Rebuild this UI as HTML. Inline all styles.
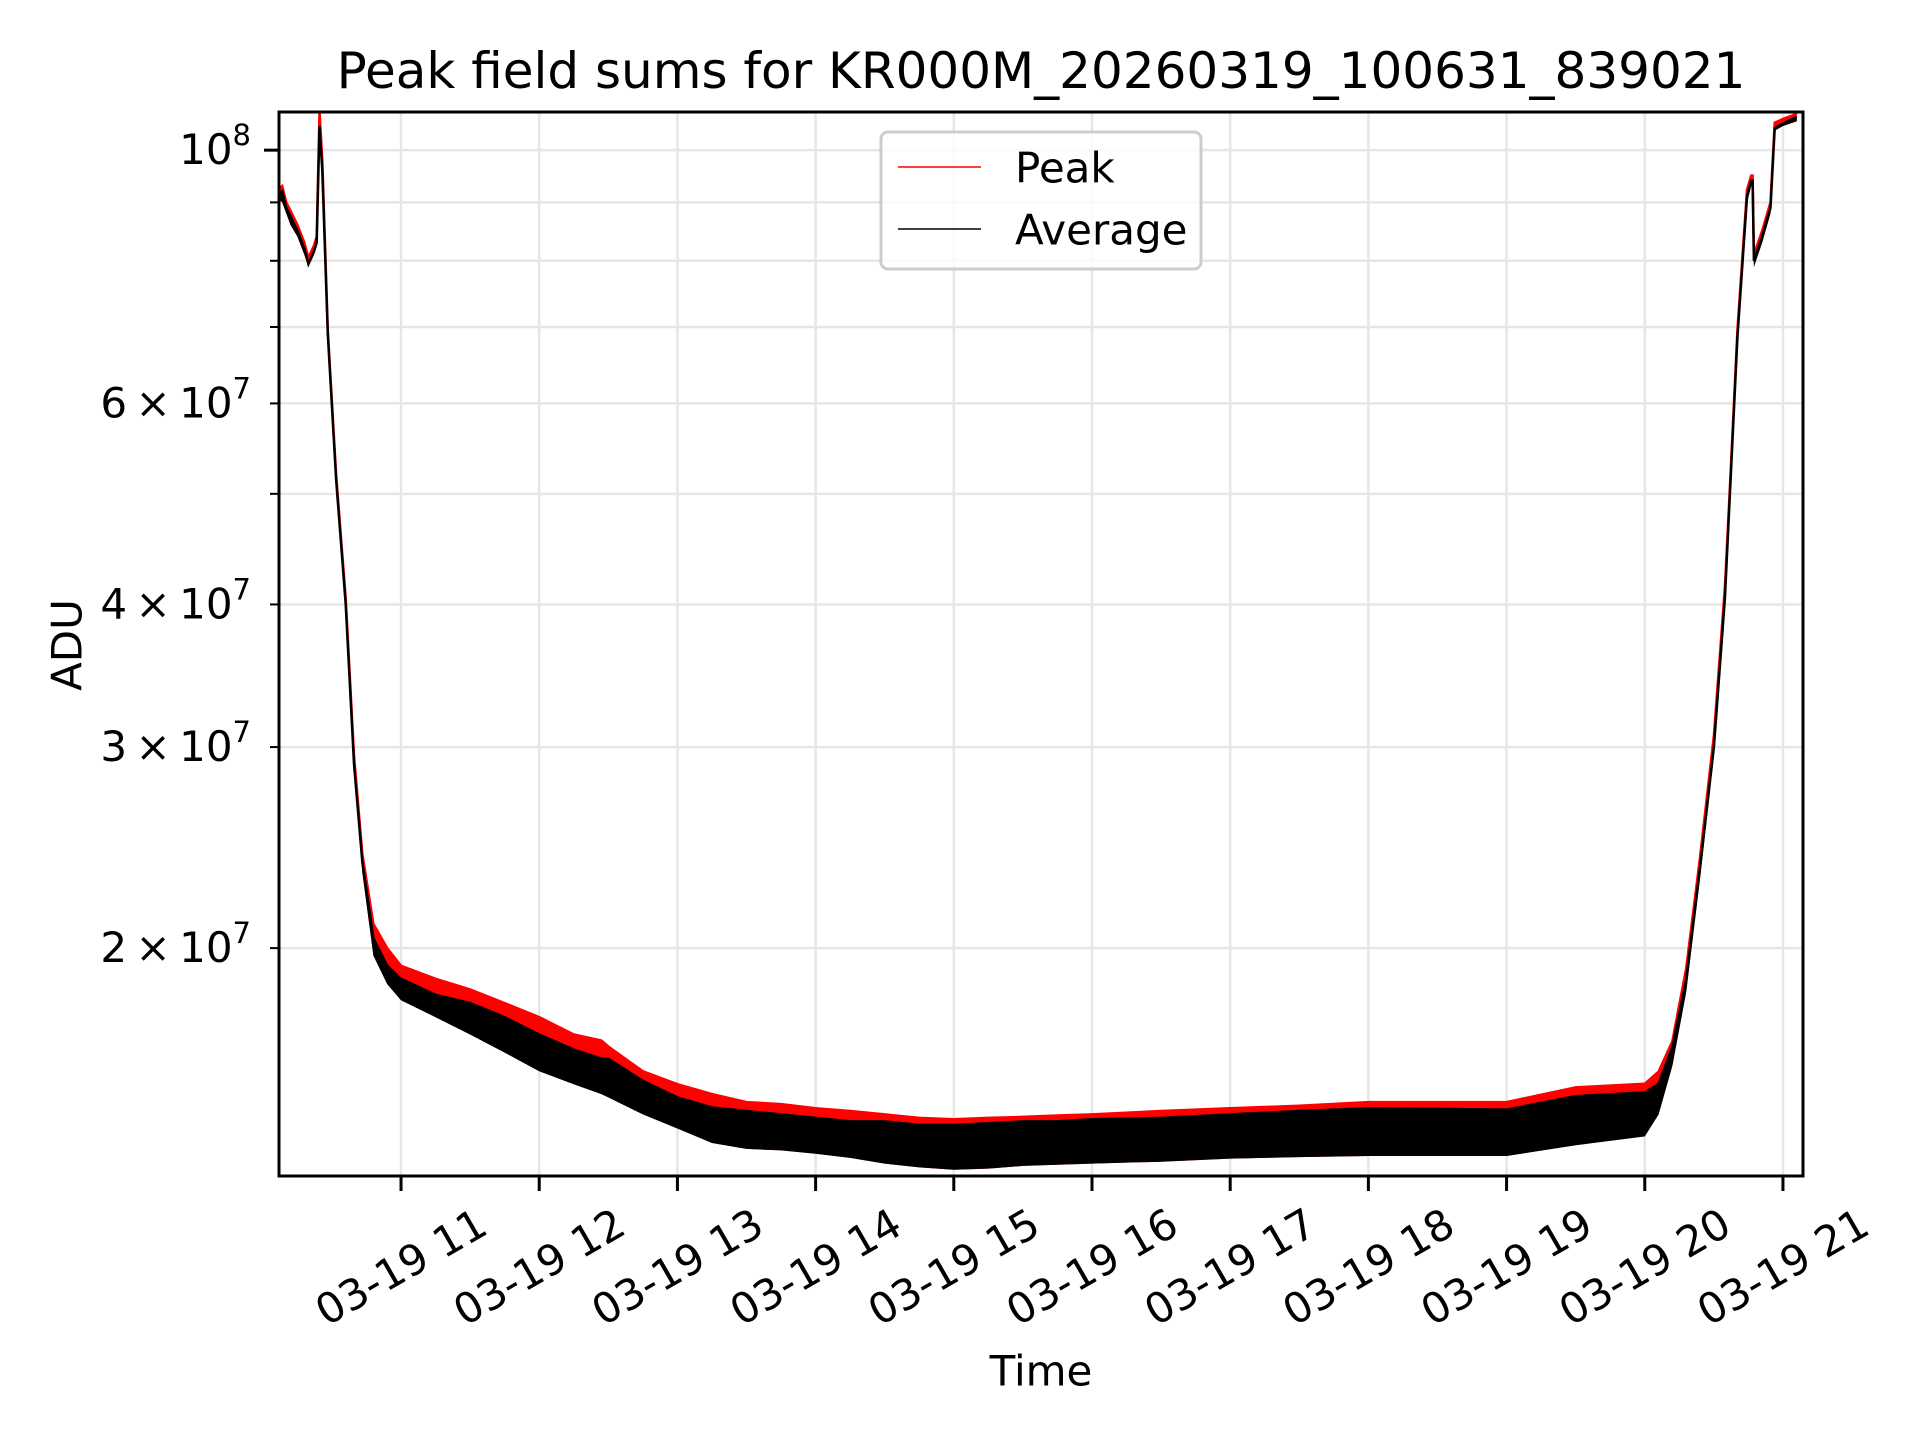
<!DOCTYPE html>
<html><head><meta charset="utf-8"><style>
html,body{margin:0;padding:0;background:#fff;}
svg{display:block;font-family:"DejaVu Sans","Liberation Sans",sans-serif;}
</style></head><body>
<svg id="chart" width="1920" height="1440" viewBox="0 0 1920 1440" xmlns="http://www.w3.org/2000/svg">
<rect width="1920" height="1440" fill="#fff"/>
<text x="1041" y="71" font-size="50" text-anchor="middle" dominant-baseline="central">Peak field sums for KR000M_20260319_100631_839021</text>
<g id="grid"></g>
<g id="series"></g>
<rect x="279" y="112" width="1524" height="1064" fill="none" stroke="#000" stroke-width="3"/>
<g id="axes"></g>
<text x="67" y="645" font-size="42" text-anchor="middle" dominant-baseline="central" transform="rotate(-90 67 645)">ADU</text>
<text x="1041" y="1371" font-size="42" text-anchor="middle" dominant-baseline="central">Time</text>
<g>
<rect x="881" y="132" width="320" height="137" rx="7" fill="#fff" fill-opacity="0.8" stroke="#ccc" stroke-width="3"/>
<line x1="898" y1="167" x2="981" y2="167" stroke="#f00" stroke-width="1.5"/>
<text x="1015" y="168" font-size="42" dominant-baseline="central">Peak</text>
<line x1="898" y1="229" x2="981" y2="229" stroke="#000" stroke-width="1.5"/>
<text x="1015" y="230" font-size="42" dominant-baseline="central">Average</text>
</g>
</svg>
<script>
const tHours=[10.117,10.14,10.17,10.2,10.25,10.3,10.33,10.37,10.39,10.41,10.43,10.47,10.53,10.6,10.66,10.72,10.8,10.9,11.0,11.25,11.5,11.75,12.0,12.25,12.45,12.5,12.75,13.0,13.25,13.5,13.75,14.0,14.25,14.5,14.75,15.0,15.25,15.5,15.75,16.0,16.5,17.0,17.5,18.0,18.5,19.0,19.5,20.0,20.1,20.2,20.3,20.4,20.5,20.58,20.62,20.67,20.74,20.77,20.78,20.79,20.85,20.91,20.94,21.0,21.1];
const peakE7=[9.25,9.3,9.0,8.85,8.6,8.3,8.05,8.25,8.4,10.8,9.8,6.95,5.2,4.05,2.95,2.42,2.1,2.0,1.93,1.88,1.84,1.79,1.74,1.68,1.66,1.64,1.56,1.52,1.49,1.466,1.46,1.448,1.44,1.43,1.42,1.416,1.42,1.423,1.427,1.43,1.44,1.448,1.455,1.466,1.466,1.466,1.51,1.521,1.559,1.658,1.92,2.4,3.07,4.14,5.17,6.95,9.23,9.5,9.5,8.1,8.5,9.0,10.57,10.65,10.76];
const avgTopE7=[9.15,9.2,8.9,8.75,8.5,8.2,7.95,8.15,8.3,10.5,9.6,6.9,5.15,4.0,2.9,2.38,2.04,1.93,1.88,1.82,1.79,1.74,1.68,1.63,1.6,1.6,1.53,1.48,1.45,1.44,1.43,1.42,1.41,1.41,1.4,1.4,1.405,1.41,1.41,1.416,1.42,1.43,1.44,1.448,1.446,1.444,1.484,1.495,1.521,1.638,1.876,2.35,3.0,4.05,5.1,6.85,9.1,9.4,9.4,8.0,8.4,8.9,10.45,10.55,10.7];
const avgLowE7=[9.05,9.0,8.8,8.6,8.4,8.1,7.9,8.1,8.25,10.4,9.5,6.85,5.1,3.95,2.85,2.33,1.97,1.86,1.8,1.74,1.68,1.62,1.56,1.52,1.49,1.48,1.43,1.39,1.35,1.334,1.33,1.321,1.31,1.295,1.285,1.279,1.282,1.289,1.292,1.295,1.3,1.308,1.312,1.315,1.315,1.315,1.344,1.368,1.43,1.578,1.83,2.3,2.95,4.0,5.0,6.8,9.0,9.3,9.3,7.9,8.3,8.8,10.4,10.5,10.6];
const xTickHours=[11,12,13,14,15,16,17,18,19,20,21];
const xTickLabels=["03-19 11","03-19 12","03-19 13","03-19 14","03-19 15","03-19 16","03-19 17","03-19 18","03-19 19","03-19 20","03-19 21"];
const yMinorTicks=[2e7,3e7,4e7,5e7,6e7,7e7,8e7,9e7];
const yLabelTicks=[2e7,3e7,4e7,6e7];
const yLabelMant=["2","3","4","6"];

const NS="http://www.w3.org/2000/svg";
const L=279,R=1803,T=112,B=1176;
const x0=10.117,x1=21.145;
function xs(t){return L+(t-x0)/(x1-x0)*(R-L);}
const ly0=Math.log10(1.263e7),ly1=Math.log10(1.08e8);
function ys(v){return B-(Math.log10(v)-ly0)/(ly1-ly0)*(B-T);}
function mk(tag,attrs,parent){const e=document.createElementNS(NS,tag);for(const k in attrs)e.setAttribute(k,attrs[k]);parent.appendChild(e);return e;}
const grid=document.getElementById('grid'),axes=document.getElementById('axes'),series=document.getElementById('series');

xTickHours.forEach((h,i)=>{
  const x=xs(h);
  const g=mk('line',{x1:x,y1:T,x2:x,y2:B,stroke:'#e6e6e6','stroke-width':2.5},grid);
  
  
  const tk=mk('line',{x1:x,y1:B,x2:x,y2:B+15,stroke:'#000','stroke-width':3},axes);
  
  
  const tx=mk('text',{x:x,y:1267,'font-size':42,'text-anchor':'middle','dominant-baseline':'central',transform:`rotate(-30 ${x} 1267)`},axes);
  tx.textContent=xTickLabels[i];
  
  
});
const allY=[1e8].concat(yMinorTicks);
allY.forEach(v=>{
  const y=ys(v);
  const g=mk('line',{x1:L,y1:y,x2:R,y2:y,stroke:'#e6e6e6','stroke-width':2.5},grid);
  
  
  const major=v===1e8;
  const tk=mk('line',{x1:L-(major?15:9),y1:y,x2:L,y2:y,stroke:'#000','stroke-width':major?3:2},axes);
  
  
});
{
  const y=ys(1e8);
  const t=mk('text',{x:251,y:y+14,'font-size':42,'text-anchor':'end'},axes);
  
  
  t.innerHTML='10<tspan font-size="29" dy="-19">8</tspan>';
}
yLabelTicks.forEach((v,i)=>{
  const y=ys(v);
  const t=mk('text',{x:251,y:y+14,'font-size':42,'text-anchor':'end'},axes);
  
  
  t.innerHTML=yLabelMant[i]+'\u2009×\u200910<tspan font-size="29" dy="-19">7</tspan>';
});

function band(top,low){
  let p=[];
  tHours.forEach((t,i)=>p.push(xs(t).toFixed(1)+','+ys(top[i]*1e7).toFixed(1)));
  for(let i=tHours.length-1;i>=0;i--)p.push(xs(tHours[i]).toFixed(1)+','+ys(low[i]*1e7).toFixed(1));
  return p.join(' ');
}
function line(arr){return tHours.map((t,i)=>xs(t).toFixed(1)+','+ys(arr[i]*1e7).toFixed(1)).join(' ');}
const clip=mk('clipPath',{id:'plotclip'},series);
mk('rect',{x:L,y:T,width:R-L,height:B-T},clip);
const g=mk('g',{'clip-path':'url(#plotclip)'},series);
const rb=mk('polygon',{points:band(peakE7,avgLowE7),fill:'#f00'},g);


const pl=mk('polyline',{points:line(peakE7),fill:'none',stroke:'#f00','stroke-width':2.5},g);


const bb=mk('polygon',{points:band(avgTopE7,avgLowE7),fill:'#000'},g);


const al=mk('polyline',{points:line(avgTopE7),fill:'none',stroke:'#000','stroke-width':2.5},g);


</script>
</body></html>
